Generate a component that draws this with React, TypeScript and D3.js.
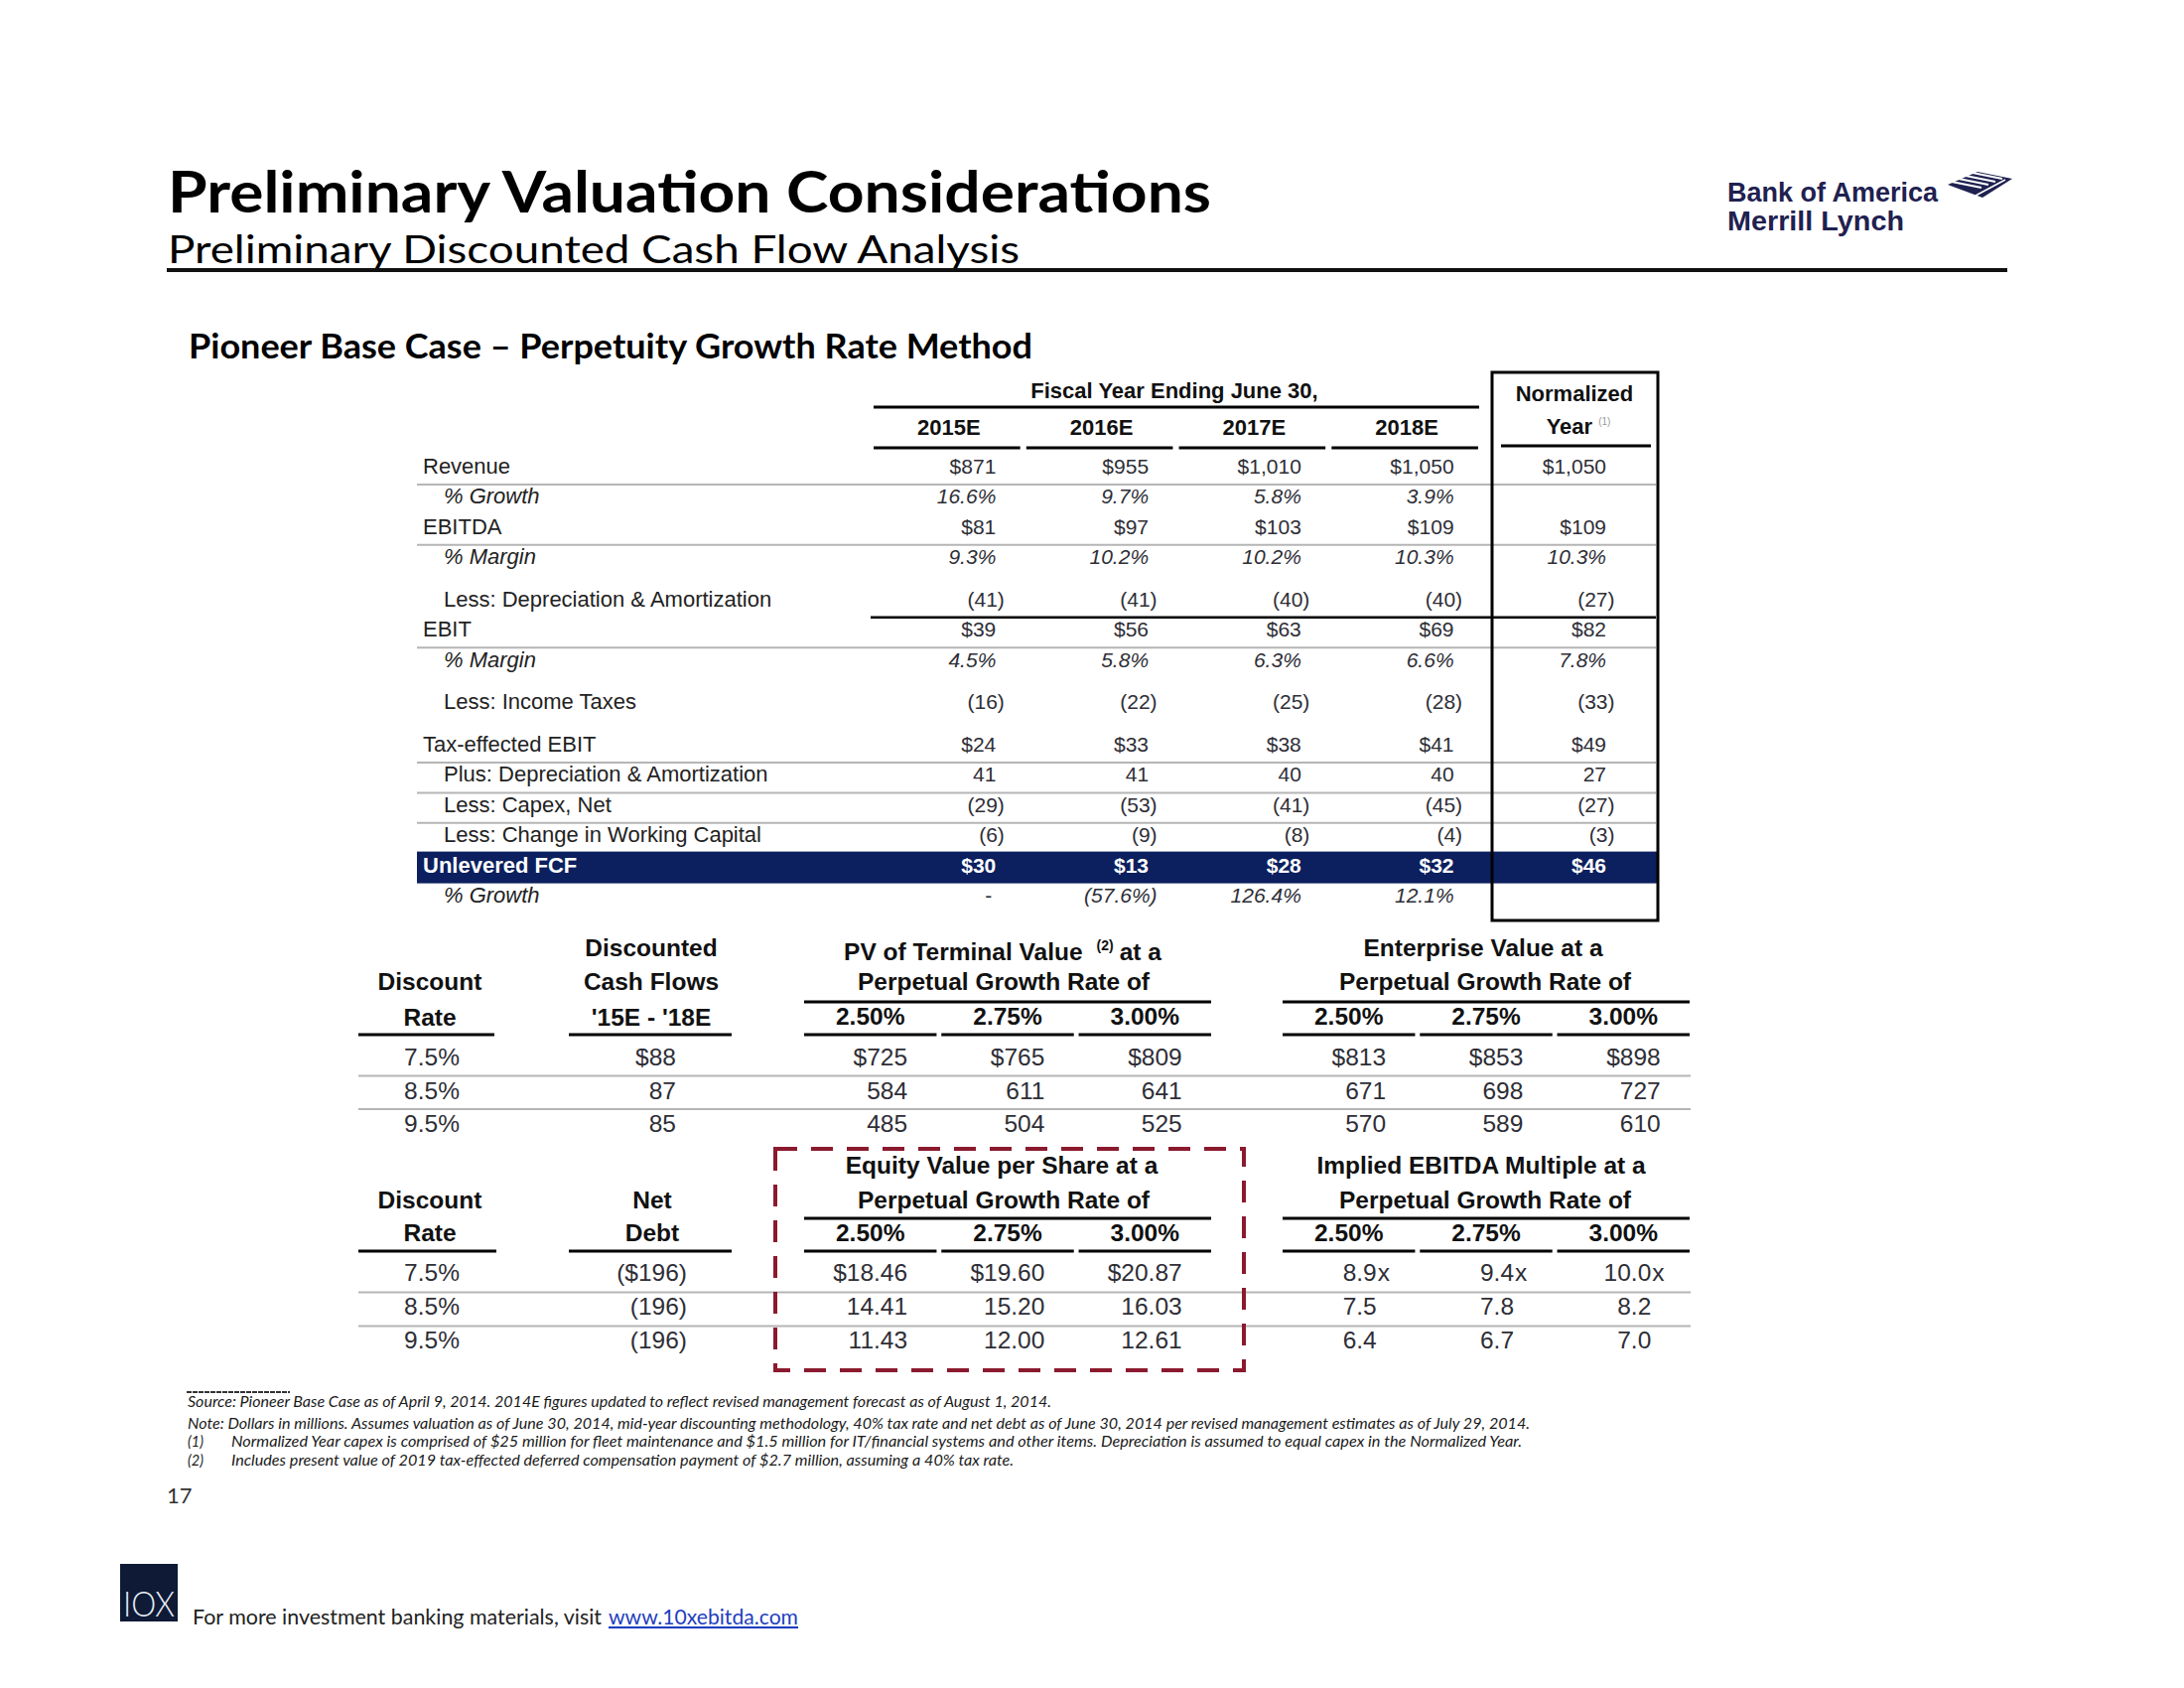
import React from "react";
import * as d3 from "d3";

// ---------- DATA ----------
const years = ["2015E", "2016E", "2017E", "2018E"];
const normalizedLabel = "Normalized";
const revenue = [871, 955, 1010, 1050, 1050];
const revenueGrowth = [16.6, 9.7, 5.8, 3.9];
const ebitda = [81, 97, 103, 109, 109];
const ebitdaMargin = [9.3, 10.2, 10.2, 10.3, 10.3];
const lessDA = [-41, -41, -40, -40, -27];
const ebit = [39, 56, 63, 69, 82];
const ebitMargin = [4.5, 5.8, 6.3, 6.6, 7.8];
const lessTaxes = [-16, -22, -25, -28, -33];
const taxEffectedEbit = [24, 33, 38, 41, 49];
const plusDA = [41, 41, 40, 40, 27];
const lessCapex = [-29, -53, -41, -45, -27];
const lessNWC = [-6, -9, -8, -4, -3];
const unleveredFcf = [30, 13, 28, 32, 46];
const fcfGrowth = [null, -57.6, 126.4, 12.1];

const discountRates = [7.5, 8.5, 9.5];
const growthRates = [2.5, 2.75, 3.0];
const dcfPV = [88, 87, 85];
const pvTerminal = [[725, 765, 809], [584, 611, 641], [485, 504, 525]];
const enterpriseValue = [[813, 853, 898], [671, 698, 727], [570, 589, 610]];
const netDebt = [-196, -196, -196];
const equityPerShare = [[18.46, 19.6, 20.87], [14.41, 15.2, 16.03], [11.43, 12.0, 12.61]];
const ebitdaMultiple = [[8.9, 9.4, 10.0], [7.5, 7.8, 8.2], [6.4, 6.7, 7.0]];

const footnotes = [
  "Source: Pioneer Base Case as of April 9, 2014. 2014E figures updated to reflect revised management forecast as of August 1, 2014.",
  "Note: Dollars in millions. Assumes valuation as of June 30, 2014, mid-year discounting methodology, 40% tax rate and net debt as of June 30, 2014 per revised management estimates as of July 29, 2014.",
  "Normalized Year capex is comprised of $25 million for fleet maintenance and $1.5 million for IT/financial systems and other items.  Depreciation is assumed to equal capex in the Normalized Year.",
  "Includes present value of 2019 tax-effected deferred compensation payment of $2.7 million, assuming  a 40% tax rate.",
];

// ---------- STYLE ----------
const ARIAL = "'Liberation Sans', Arial, Helvetica, sans-serif";
const CAL = "Lato, 'Open Sans', sans-serif";
const NAVY = "#0c1f5e";
const VAL = "#2e2e36";
const LAB = "#222";
const GRAY = "#b5b5b5";

const f0 = d3.format(",.0f");
const f1 = d3.format(".1f");
const f2 = d3.format(".2f");

function money(v: number, dollar: boolean) {
  const s = (dollar ? "$" : "") + f0(Math.abs(v));
  return v < 0 ? `(${s})` : s;
}
function pct(v: number) {
  return v < 0 ? `(${f1(-v)}%)` : `${f1(v)}%`;
}

type Kind = "usd" | "num" | "pct";
const rows: { label: string; vals: (number | null)[]; kind: Kind; indent: boolean; bold?: boolean }[] = [
  { label: "Revenue", vals: revenue, kind: "usd", indent: false },
  { label: "% Growth", vals: revenueGrowth, kind: "pct", indent: true },
  { label: "EBITDA", vals: ebitda, kind: "usd", indent: false },
  { label: "% Margin", vals: ebitdaMargin, kind: "pct", indent: true },
  { label: "Less: Depreciation & Amortization", vals: lessDA, kind: "num", indent: true },
  { label: "EBIT", vals: ebit, kind: "usd", indent: false },
  { label: "% Margin", vals: ebitMargin, kind: "pct", indent: true },
  { label: "Less: Income Taxes", vals: lessTaxes, kind: "num", indent: true },
  { label: "Tax-effected EBIT", vals: taxEffectedEbit, kind: "usd", indent: false },
  { label: "Plus: Depreciation & Amortization", vals: plusDA, kind: "num", indent: true },
  { label: "Less: Capex, Net", vals: lessCapex, kind: "num", indent: true },
  { label: "Less: Change in Working Capital", vals: lessNWC, kind: "num", indent: true },
  { label: "Unlevered FCF", vals: unleveredFcf, kind: "usd", indent: false, bold: true },
  { label: "% Growth", vals: fcfGrowth, kind: "pct", indent: true },
];

export default function App() {
  // top table row positions
  const spacerBefore = new Set([4, 7, 8]);
  const units: number[] = [];
  let u = 0;
  rows.forEach((_, i) => {
    if (i > 0) u += 1 + (spacerBefore.has(i) ? 0.405 : 0);
    units.push(u);
  });
  const yRow = d3.scaleLinear().domain([0, units[units.length - 1]]).range([477, 909]);
  const ry = (i: number) => yRow(units[i]);

  const colX = d3.scaleBand().domain(years).range([877, 1492]).paddingInner(0.04).paddingOuter(0.02);
  const bw = colX.bandwidth();
  const valueRight = years.map((y) => (colX(y) as number) + bw * 0.835).concat([1618]);

  const topFs = 21;
  const topHang = 8.5;

  const lineAfter = [0, 2, 5, 8, 9, 10];

  // lower tables
  const y1 = d3.scalePoint<number>().domain([0, 1, 2]).range([1073, 1140]);
  const y2 = d3.scalePoint<number>().domain([0, 1, 2]).range([1290, 1358]);
  const gKeys = growthRates.map(String);
  const pvX = d3.scaleBand().domain(gKeys).range([810, 1220]).paddingInner(0.035);
  const evX = d3.scaleBand().domain(gKeys).range([1292, 1702]).paddingInner(0.035);
  const gbw = pvX.bandwidth();
  const lowFs = 24.5;
  const lowHang = 11;

  const Val = (p: { x: number; y: number; s: string; fs: number; hang: number; italic?: boolean; bold?: boolean; fill?: string }) => {
    const neg = p.s.endsWith(")");
    return (
      <text
        x={neg ? p.x + p.hang : p.x}
        y={p.y}
        textAnchor="end"
        fontFamily={ARIAL}
        fontSize={p.fs}
        fontStyle={p.italic ? "italic" : "normal"}
        fontWeight={p.bold ? "bold" : "normal"}
        fill={p.fill || VAL}
      >
        {p.s}
      </text>
    );
  };

  const H = (p: { x: number; y: number; children: React.ReactNode; fs?: number; bold?: boolean }) => (
    <text x={p.x} y={p.y} textAnchor="middle" fontFamily={ARIAL} fontSize={p.fs || lowFs} fontWeight={p.bold === false ? "normal" : "bold"} fill="#111">
      {p.children}
    </text>
  );

  const hline = (x1: number, x2: number, y: number, color = "#000", w = 3, key?: string) => (
    <line key={key} x1={x1} x2={x2} y1={y} y2={y} stroke={color} strokeWidth={w} />
  );

  const rateHeader = (scale: d3.ScaleBand<string>, yTop: number, yRates: number, yUnder: number, prefix: string) => (
    <g>
      {hline(scale.range()[0], scale.range()[1], yTop)}
      {growthRates.map((g, j) => {
        const x0 = scale(String(g)) as number;
        return (
          <g key={prefix + j}>
            <H x={x0 + gbw / 2} y={yRates}>{f2(g) + "%"}</H>
            {hline(x0, x0 + gbw, yUnder)}
          </g>
        );
      })}
    </g>
  );

  return (
    <svg width={2200} height={1700} style={{ position: "absolute", left: 0, top: 0, background: "#fff" }}>
      <rect x={0} y={0} width={2200} height={1700} fill="#fff" />
      {/* Titles */}
      <text x={169} y={214} fontFamily={CAL} fontWeight="bold" fontSize={57} fill="#000" textLength={1051} lengthAdjust="spacingAndGlyphs">
        Preliminary Valuation Considerations
      </text>
      <text x={169} y={265} fontFamily={CAL} fontSize={39} fill="#000" textLength={858} lengthAdjust="spacingAndGlyphs">
        Preliminary Discounted Cash Flow Analysis
      </text>
      {hline(168, 2022, 272, "#111", 4)}
      <text x={190} y={361} fontFamily={CAL} fontWeight="bold" fontSize={34} fill="#000" textLength={850} lengthAdjust="spacingAndGlyphs">
        Pioneer Base Case – Perpetuity Growth Rate Method
      </text>

      {/* Logo */}
      <text x={1740} y={203} fontFamily={ARIAL} fontWeight="bold" fontSize={27} fill="#1f2150" textLength={212} lengthAdjust="spacingAndGlyphs">
        Bank of America
      </text>
      <text x={1740} y={232} fontFamily={ARIAL} fontWeight="bold" fontSize={27} fill="#1f2150" textLength={178} lengthAdjust="spacingAndGlyphs">
        Merrill Lynch
      </text>
      <g>
        <polygon points="1962,186 1992,173 2027,180 1997,199" fill="#1f2150" />
        {[0, 1, 2, 3].map((i) => (
          <line key={"fl" + i} x1={1966 + i * 7} y1={183 - i * 3} x2={1996 + i * 7} y2={189 - i * 3} stroke="#fff" strokeWidth={2.2} />
        ))}
        <line x1={1990} y1={197} x2={2020} y2={181} stroke="#fff" strokeWidth={1.5} />
      </g>

      {/* ---------- TOP TABLE ---------- */}
      <text x={1183} y={401} textAnchor="middle" fontFamily={ARIAL} fontWeight="bold" fontSize={22} fill="#111">
        Fiscal Year Ending June 30,
      </text>
      {hline(880, 1490, 410)}
      {years.map((y) => (
        <g key={y}>
          <text x={(colX(y) as number) + bw / 2 + 2} y={438} textAnchor="middle" fontFamily={ARIAL} fontWeight="bold" fontSize={22} fill="#111">
            {y}
          </text>
          {hline(colX(y) as number, (colX(y) as number) + bw, 451)}
        </g>
      ))}
      <text x={1586} y={404} textAnchor="middle" fontFamily={ARIAL} fontWeight="bold" fontSize={22} fill="#111">
        {normalizedLabel}
      </text>
      <text x={1590} y={437} textAnchor="middle" fontFamily={ARIAL} fontWeight="bold" fontSize={22} fill="#111">
        Year
        <tspan fontSize={10} fontWeight="normal" fill="#999" dx={6} dy={-9}>(1)</tspan>
      </text>
      {hline(1512, 1663, 449)}

      {/* navy band */}
      <rect x={420} y={ry(12) - 21} width={1250} height={32} fill={NAVY} />

      {lineAfter.map((i) => hline(420, 1668, ry(i) + 11, GRAY, 2, "gl" + i))}
      {hline(877, 1668, ry(4) + 11, "#000", 2.5)}

      {rows.map((r, i) => {
        const y = ry(i);
        const white = !!r.bold;
        return (
          <g key={"row" + i}>
            <text
              x={r.indent ? 447 : 426}
              y={y}
              fontFamily={ARIAL}
              fontSize={22}
              fontStyle={r.kind === "pct" ? "italic" : "normal"}
              fontWeight={r.bold ? "bold" : "normal"}
              fill={white ? "#fff" : LAB}
            >
              {r.label}
            </text>
            {r.vals.map((v, j) => {
              if (v === undefined) return null;
              if (v === null) {
                return (
                  <text key={j} x={valueRight[j] - 4} y={y} textAnchor="end" fontFamily={ARIAL} fontSize={topFs} fill={VAL}>
                    -
                  </text>
                );
              }
              const s = r.kind === "pct" ? pct(v) : money(v, r.kind === "usd");
              return (
                <Val key={j} x={valueRight[j]} y={y} s={s} fs={topFs} hang={topHang} italic={r.kind === "pct"} bold={r.bold} fill={white ? "#fff" : VAL} />
              );
            })}
          </g>
        );
      })}
      <rect x={1503} y={375} width={167} height={552} fill="none" stroke="#000" strokeWidth={3} />

      {/* ---------- LOWER TABLES ---------- */}
      {[0, 1].map((i) => hline(361, 1703, y1(i)! + 10.5, GRAY, 2, "l1" + i))}
      {[0, 1].map((i) => hline(361, 1703, y2(i)! + 11.5, GRAY, 2, "l2" + i))}

      {/* group 1 headers */}
      <H x={433} y={997}>Discount</H>
      <H x={433} y={1033}>Rate</H>
      {hline(361, 498, 1042)}
      <H x={656} y={963}>Discounted</H>
      <H x={656} y={997}>Cash Flows</H>
      <H x={656} y={1033}>'15E - '18E</H>
      {hline(573, 737, 1042)}

      <text x={1010} y={967} textAnchor="middle" fontFamily={ARIAL} fontSize={lowFs} fontWeight="bold" fill="#111">
        PV of Terminal Value
        <tspan fontSize={14} dx={14} dy={-10}>(2)</tspan>
        <tspan dx={6} dy={10}>at a</tspan>
      </text>
      <H x={1011} y={997}>Perpetual Growth Rate of</H>
      {rateHeader(pvX, 1009, 1032, 1042, "pv")}

      <H x={1494} y={963}>Enterprise Value at a</H>
      <H x={1496} y={997}>Perpetual Growth Rate of</H>
      {rateHeader(evX, 1009, 1032, 1042, "ev")}

      {discountRates.map((d, i) => (
        <g key={"g1" + i}>
          <text x={435} y={y1(i)} textAnchor="middle" fontFamily={ARIAL} fontSize={lowFs} fill={VAL}>
            {f1(d) + "%"}
          </text>
          <Val x={681} y={y1(i)!} s={money(dcfPV[i], i === 0)} fs={lowFs} hang={lowHang} />
          {pvTerminal[i].map((v, j) => (
            <Val key={"pv" + j} x={(pvX(gKeys[j]) as number) + gbw * 0.78} y={y1(i)!} s={money(v, i === 0)} fs={lowFs} hang={lowHang} />
          ))}
          {enterpriseValue[i].map((v, j) => (
            <Val key={"ev" + j} x={(evX(gKeys[j]) as number) + gbw * 0.78} y={y1(i)!} s={money(v, i === 0)} fs={lowFs} hang={lowHang} />
          ))}
        </g>
      ))}

      {/* group 2 headers */}
      <H x={433} y={1217}>Discount</H>
      <H x={433} y={1250}>Rate</H>
      {hline(361, 500, 1260)}
      <H x={657} y={1217}>Net</H>
      <H x={657} y={1250}>Debt</H>
      {hline(573, 737, 1260)}

      <H x={1009} y={1182}>Equity Value per Share at a</H>
      <H x={1011} y={1217}>Perpetual Growth Rate of</H>
      {rateHeader(pvX, 1227, 1250, 1260, "eq")}

      <H x={1492} y={1182}>Implied EBITDA Multiple at a</H>
      <H x={1496} y={1217}>Perpetual Growth Rate of</H>
      {rateHeader(evX, 1227, 1250, 1260, "mx")}

      {discountRates.map((d, i) => (
        <g key={"g2" + i}>
          <text x={435} y={y2(i)} textAnchor="middle" fontFamily={ARIAL} fontSize={lowFs} fill={VAL}>
            {f1(d) + "%"}
          </text>
          <Val x={681} y={y2(i)!} s={money(netDebt[i], i === 0)} fs={lowFs} hang={lowHang} />
          {equityPerShare[i].map((v, j) => (
            <Val key={"eq" + j} x={(pvX(gKeys[j]) as number) + gbw * 0.78} y={y2(i)!} s={(i === 0 ? "$" : "") + f2(v)} fs={lowFs} hang={lowHang} />
          ))}
          {ebitdaMultiple[i].map((v, j) => {
            const xr = (evX(gKeys[j]) as number) + gbw * 0.71;
            return (
              <g key={"mx" + j}>
                <Val x={xr} y={y2(i)!} s={f1(v)} fs={lowFs} hang={lowHang} />
                {i === 0 && (
                  <text x={xr + 1} y={y2(i)} fontFamily={ARIAL} fontSize={lowFs} fill={VAL}>
                    x
                  </text>
                )}
              </g>
            );
          })}
        </g>
      ))}

      <rect x={781} y={1157} width={472} height={223} fill="none" stroke="#8b1a2e" strokeWidth={4} strokeDasharray="22 14" />

      {/* ---------- FOOTNOTES ---------- */}
      <line x1={188} x2={292} y1={1402} y2={1402} stroke="#333" strokeWidth={2} strokeDasharray="5 1" />
      <text x={189} y={1417} fontFamily={CAL} fontStyle="italic" fontSize={14.5} fill="#1a1a1a" textLength={870} lengthAdjust="spacingAndGlyphs">
        {footnotes[0]}
      </text>
      <text x={189} y={1439} fontFamily={CAL} fontStyle="italic" fontSize={14.5} fill="#1a1a1a" textLength={1352} lengthAdjust="spacingAndGlyphs">
        {footnotes[1]}
      </text>
      <text x={189} y={1457} fontFamily={CAL} fontStyle="italic" fontSize={14.5} fill="#1a1a1a">(1)</text>
      <text x={233} y={1457} fontFamily={CAL} fontStyle="italic" fontSize={14.5} fill="#1a1a1a" textLength={1300} lengthAdjust="spacingAndGlyphs">
        {footnotes[2]}
      </text>
      <text x={189} y={1476} fontFamily={CAL} fontStyle="italic" fontSize={14.5} fill="#1a1a1a">(2)</text>
      <text x={233} y={1476} fontFamily={CAL} fontStyle="italic" fontSize={14.5} fill="#1a1a1a" textLength={788} lengthAdjust="spacingAndGlyphs">
        {footnotes[3]}
      </text>
      <text x={168} y={1514} fontFamily={CAL} fontSize={22} fill="#333">17</text>

      {/* ---------- FOOTER ---------- */}
      <rect x={121} y={1575} width={58} height={58} fill="#0e1a36" />
      <text x={124} y={1628} fontFamily={CAL} fontWeight={300} fontSize={36} fill="#e8ecf3" textLength={52} lengthAdjust="spacingAndGlyphs">
        IOX
      </text>
      <text x={194} y={1636} fontFamily={CAL} fontSize={21} fill="#222" textLength={412} lengthAdjust="spacingAndGlyphs">
        For more investment banking materials, visit
      </text>
      <text x={613} y={1636} fontFamily={CAL} fontSize={21} fill="#1f3fbf" textDecoration="underline" textLength={191} lengthAdjust="spacingAndGlyphs">
        www.10xebitda.com
      </text>
      {hline(613, 804, 1639, "#1f3fbf", 1.5)}
    </svg>
  );
}
